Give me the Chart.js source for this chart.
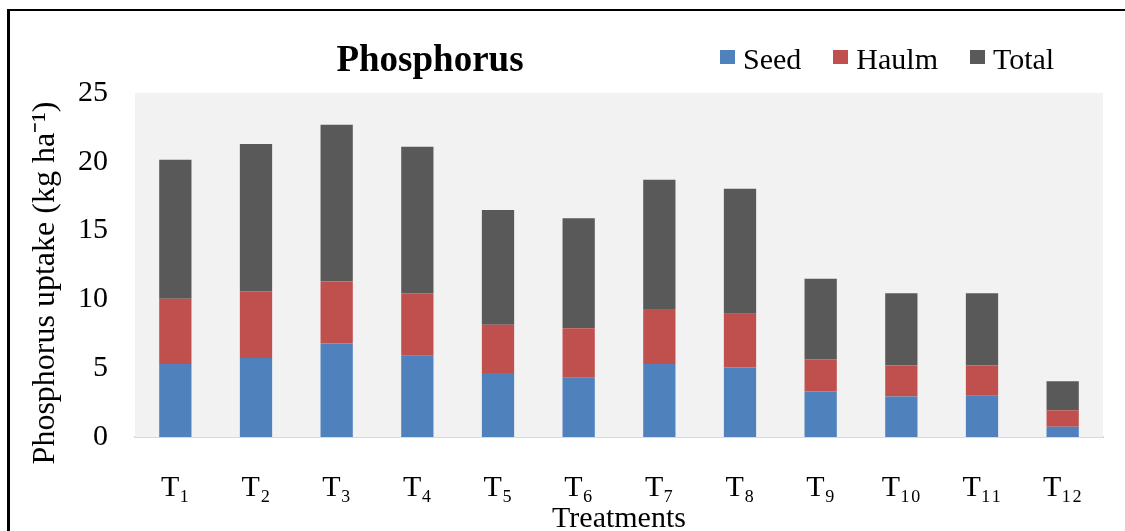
<!DOCTYPE html>
<html>
<head>
<meta charset="utf-8">
<script src="https://cdn.jsdelivr.net/npm/chart.js@4.4.1/dist/chart.umd.min.js"></script>
<style>
  html, body { margin: 0; padding: 0; background: #fff; overflow: hidden; }
  #wrap { position: relative; width: 1125px; height: 531px; overflow: hidden; background: #fff; }
  #frame { position: absolute; left: 7px; top: 9px; width: 1200px; height: 600px;
           border-left: 3px solid #000; border-top: 2px solid #000; box-sizing: border-box; }
  #chartBox { position: absolute; left: 0; top: 0; width: 1125px; height: 545px; }
  #title { position: absolute; left: 230px; width: 400px; top: 41px; text-align: center;
           font-family: "Liberation Serif", "Times New Roman", serif; font-weight: bold; font-size: 37px; line-height: 36px; color: #000; }
  #legend { position: absolute; left: 720px; top: 44px; display: flex; align-items: flex-start;
            font-family: "Liberation Serif", "Times New Roman", serif; font-size: 30px; line-height: 30px; color: #000; }
  .item { display: flex; align-items: flex-start; margin-right: 32px; }
  .sw { width: 15px; height: 14px; margin-top: 6px; margin-right: 8px; }
  #ytitle { position: absolute; left: 43px; top: 283px; width: 0; height: 0; }
  #ytitle span { position: absolute; left: 0; top: 0; white-space: nowrap; transform: translate(-50%, -50%) rotate(-90deg);
                 font-family: "Liberation Serif", "Times New Roman", serif; font-size: 32px; line-height: 34px; color: #000; }
</style>
</head>
<body>
<div id="wrap">
  <div id="chartBox"><canvas id="c"></canvas></div>
  <div id="frame"></div>
  <div id="title"></div>
  <div id="legend"></div>
  <div id="ytitle"><span></span></div>
</div>
<script>
// ---- data ----
const chartTitle = 'Phosphorus';
const categories = ['T\u2081','T\u2082','T\u2083','T\u2084','T\u2085','T\u2086','T\u2087','T\u2088','T\u2089','T\u2081\u2080','T\u2081\u2081','T\u2081\u2082'];
const seriesNames = ['Seed', 'Haulm', 'Total'];
const seed  = [5.3, 5.75, 6.8, 5.9, 4.65, 4.3, 5.3, 5.05, 3.3, 2.95, 3.0, 0.75];
const haulm = [4.75, 4.85, 4.5, 4.55, 3.5, 3.6, 4.0, 3.9, 2.35, 2.25, 2.2, 1.2];
const total = [10.1, 10.7, 11.4, 10.65, 8.35, 8.0, 9.4, 9.1, 5.85, 5.25, 5.25, 2.1];
const yTicks = [0, 5, 10, 15, 20, 25];
const yTitle = 'Phosphorus uptake (kg ha\u207B\u00B9)';
const xTitle = 'Treatments';

// ---- styles ----
const colors = ['#4F81BD', '#C0504D', '#595959'];
const serif = '"Liberation Serif", "Times New Roman", serif';

document.getElementById('title').textContent = chartTitle;
document.querySelector('#ytitle span').textContent = yTitle;
const legend = document.getElementById('legend');
seriesNames.forEach((n, i) => {
  const it = document.createElement('div'); it.className = 'item';
  const sw = document.createElement('div'); sw.className = 'sw'; sw.style.background = colors[i];
  const t = document.createElement('span'); t.textContent = n;
  it.appendChild(sw); it.appendChild(t); legend.appendChild(it);
});

const plotBg = {
  id: 'plotBg',
  beforeDatasetsDraw(chart) {
    const a = chart.chartArea, ctx = chart.ctx;
    ctx.save(); ctx.fillStyle = '#F2F2F2';
    ctx.fillRect(a.left, a.top, a.right - a.left, a.bottom - a.top);
    ctx.restore();
  }
};

const values = [seed, haulm, total];
new Chart(document.getElementById('c'), {
  type: 'bar',
  data: {
    labels: categories,
    datasets: seriesNames.map((n, i) => ({
      label: n, data: values[i], backgroundColor: colors[i],
      borderWidth: 0, barPercentage: 0.5, categoryPercentage: 0.8
    }))
  },
  options: {
    responsive: true, maintainAspectRatio: false, animation: false,
    devicePixelRatio: 1,
    layout: { padding: { top: 93, right: 22, left: 5, bottom: 0 } },
    plugins: { legend: { display: false }, title: { display: false }, tooltip: { enabled: false } },
    scales: {
      x: {
        stacked: true,
        afterFit(s) { s.height = 108; },
        grid: { display: false, drawTicks: false },
        border: { display: true, color: '#D9D9D9', width: 2 },
        ticks: { color: '#000', font: { family: serif, size: 30 }, padding: 33, maxRotation: 0, autoSkip: false },
        title: { display: true, text: xTitle, color: '#000', font: { family: serif, size: 30 }, padding: { top: 0, bottom: 8 } }
      },
      y: {
        stacked: true, min: 0, max: 25,
        afterBuildTicks(s) { s.ticks = yTicks.map(v => ({ value: v })); },
        afterFit(s) { s.width = 130; },
        grid: { display: false, drawTicks: false },
        border: { display: false },
        ticks: { color: '#000', font: { family: serif, size: 30 }, padding: 27 },
        title: { display: false }
      }
    }
  },
  plugins: [plotBg]
});
</script>
</body>
</html>
